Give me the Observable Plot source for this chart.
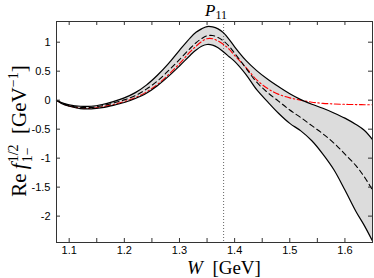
<!DOCTYPE html>
<html><head><meta charset="utf-8">
<script src="https://cdn.jsdelivr.net/npm/d3@7"></script>
<script src="https://cdn.jsdelivr.net/npm/@observablehq/plot@0.6"></script>
<style>body{margin:0;background:#fff} svg{display:block}</style>
</head><body><div id="chart"></div>
<script>
// Energy grid W [GeV]
const W       = [1.077, 1.09, 1.10, 1.12, 1.14, 1.16, 1.18, 1.20, 1.22, 1.24, 1.26, 1.28, 1.30, 1.32, 1.33, 1.34, 1.35, 1.36, 1.37, 1.38, 1.39, 1.40, 1.42, 1.44, 1.46, 1.48, 1.50, 1.52, 1.54, 1.56, 1.58, 1.60, 1.62, 1.635, 1.65];
// Upper edge of uncertainty band
const upper   = [0.0, -0.055, -0.08, -0.105, -0.105, -0.075, -0.025, 0.04, 0.13, 0.26, 0.43, 0.63, 0.86, 1.08, 1.17, 1.23, 1.27, 1.265, 1.23, 1.16, 1.05, 0.92, 0.69, 0.51, 0.36, 0.23, 0.11, 0.01, -0.07, -0.14, -0.22, -0.31, -0.42, -0.52, -0.68];
// Central (dashed) curve
const central = [0.0, -0.065, -0.095, -0.125, -0.125, -0.095, -0.05, 0.005, 0.08, 0.19, 0.33, 0.51, 0.70, 0.90, 0.99, 1.06, 1.11, 1.115, 1.08, 1.02, 0.93, 0.81, 0.56, 0.31, 0.13, -0.02, -0.17, -0.30, -0.44, -0.58, -0.74, -0.93, -1.13, -1.32, -1.55];
// Red dash-dot curve
const red     = [0.0, -0.07, -0.10, -0.135, -0.14, -0.115, -0.075, -0.025, 0.045, 0.14, 0.27, 0.44, 0.63, 0.84, 0.93, 1.01, 1.06, 1.06, 1.02, 0.96, 0.88, 0.77, 0.57, 0.35, 0.20, 0.10, 0.04, 0.0, -0.035, -0.055, -0.065, -0.072, -0.076, -0.078, -0.08];
// Lower edge of uncertainty band
const lower   = [0.0, -0.075, -0.105, -0.145, -0.15, -0.13, -0.09, -0.04, 0.03, 0.12, 0.25, 0.41, 0.59, 0.78, 0.865, 0.93, 0.96, 0.95, 0.905, 0.83, 0.75, 0.67, 0.45, 0.18, -0.03, -0.23, -0.40, -0.53, -0.70, -0.93, -1.20, -1.55, -1.92, -2.16, -2.43];
const threshold = [1.38];
const xTicks  = [1.1, 1.15, 1.2, 1.25, 1.3, 1.35, 1.4, 1.45, 1.5, 1.55, 1.6, 1.65];
const xLabels = [1.1, 1.2, 1.3, 1.4, 1.5, 1.6];
const yTicks  = [-2, -1.5, -1, -0.5, 0, 0.5, 1];

const data = W.map((w, i) => ({W: w, U: upper[i], C: central[i], R: red[i], L: lower[i]}));

const width = 374, height = 278, mt = 21, mb = 36, ml = 56, mr = 2;
const ph = height - mt - mb, pw = width - ml - mr;
const curve = "catmull-rom";
const tickColor = "#333";

const chart = Plot.plot({
  width, height, marginTop: mt, marginBottom: mb, marginLeft: ml, marginRight: mr,
  x: {domain: [1.077, 1.65], label: null},
  y: {domain: [-2.455, 1.357], label: null},
  style: {fontFamily: "'Liberation Sans', Arial, sans-serif", fontSize: "11px", color: "#000", background: "#fff", overflow: "visible"},
  marks: [
    Plot.areaY(data, {x: "W", y1: "L", y2: "U", fill: "#dcdcdc", curve}),
    Plot.ruleX(threshold, {stroke: "#666", strokeDasharray: "1,2", strokeWidth: 1}),
    Plot.line(data, {x: "W", y: "R", stroke: "#ff0000", strokeWidth: 1.1, strokeDasharray: "6,2.5,1.5,2.5", curve}),
    Plot.line(data, {x: "W", y: "C", stroke: "#000", strokeWidth: 1.1, strokeDasharray: "5,3.5", curve}),
    Plot.line(data, {x: "W", y: "U", stroke: "#000", strokeWidth: 1.2, curve}),
    Plot.line(data, {x: "W", y: "L", stroke: "#000", strokeWidth: 1.2, curve}),
    Plot.tickX(xTicks, {x: d => d, insetBottom: ph - 4, stroke: tickColor}),
    Plot.tickX(xTicks, {x: d => d, insetTop: ph - 4, stroke: tickColor}),
    Plot.tickY(yTicks, {y: d => d, insetRight: pw - 4, stroke: tickColor}),
    Plot.tickY(yTicks, {y: d => d, insetLeft: pw - 4, stroke: tickColor}),
    Plot.frame({stroke: tickColor}),
    Plot.axisX(xLabels, {tickSize: 0, tickPadding: 4, tickFormat: d => d.toFixed(1), label: null}),
    Plot.axisY(yTicks, {tickSize: 0, tickPadding: 6, tickFormat: d => String(d), label: null})
  ]
});
document.getElementById("chart").appendChild(chart);

const svg = d3.select(chart);
const serif = "'Liberation Serif', 'DejaVu Serif', serif";

// Title P_11
const t = svg.append("text").attr("x", 216).attr("y", 16).attr("text-anchor", "middle")
  .attr("font-family", serif).attr("font-size", 17).attr("fill", "#000");
t.append("tspan").attr("font-style", "italic").text("P");
t.append("tspan").attr("font-size", 12).attr("dy", 3).text("11");

// x label
const xl = svg.append("text").attr("x", 224).attr("y", 274).attr("text-anchor", "middle")
  .attr("font-family", serif).attr("font-size", 19).attr("fill", "#000");
xl.append("tspan").attr("font-style", "italic").text("W");
xl.append("tspan").text("\u2002[GeV]");

// y label
const yl = svg.append("text").attr("transform", "translate(26,131) rotate(-90)").attr("text-anchor", "middle")
  .attr("font-family", serif).attr("font-size", 21).attr("fill", "#000");
yl.append("tspan").text("Re\u2009");
yl.append("tspan").attr("font-style", "italic").text("f");
const sub = yl.append("tspan").attr("font-size", 14).attr("dy", 6).attr("dx", 1).text("1\u2212");
const subW = sub.node().getComputedTextLength();
yl.append("tspan").attr("font-size", 14).attr("dy", -14).attr("dx", -subW).text("1/2");
yl.append("tspan").attr("dy", 8).text("\u2002[GeV");
yl.append("tspan").attr("font-size", 14).attr("dy", -8).text("\u22121");
yl.append("tspan").attr("dy", 8).text("]");
</script>
</body></html>
